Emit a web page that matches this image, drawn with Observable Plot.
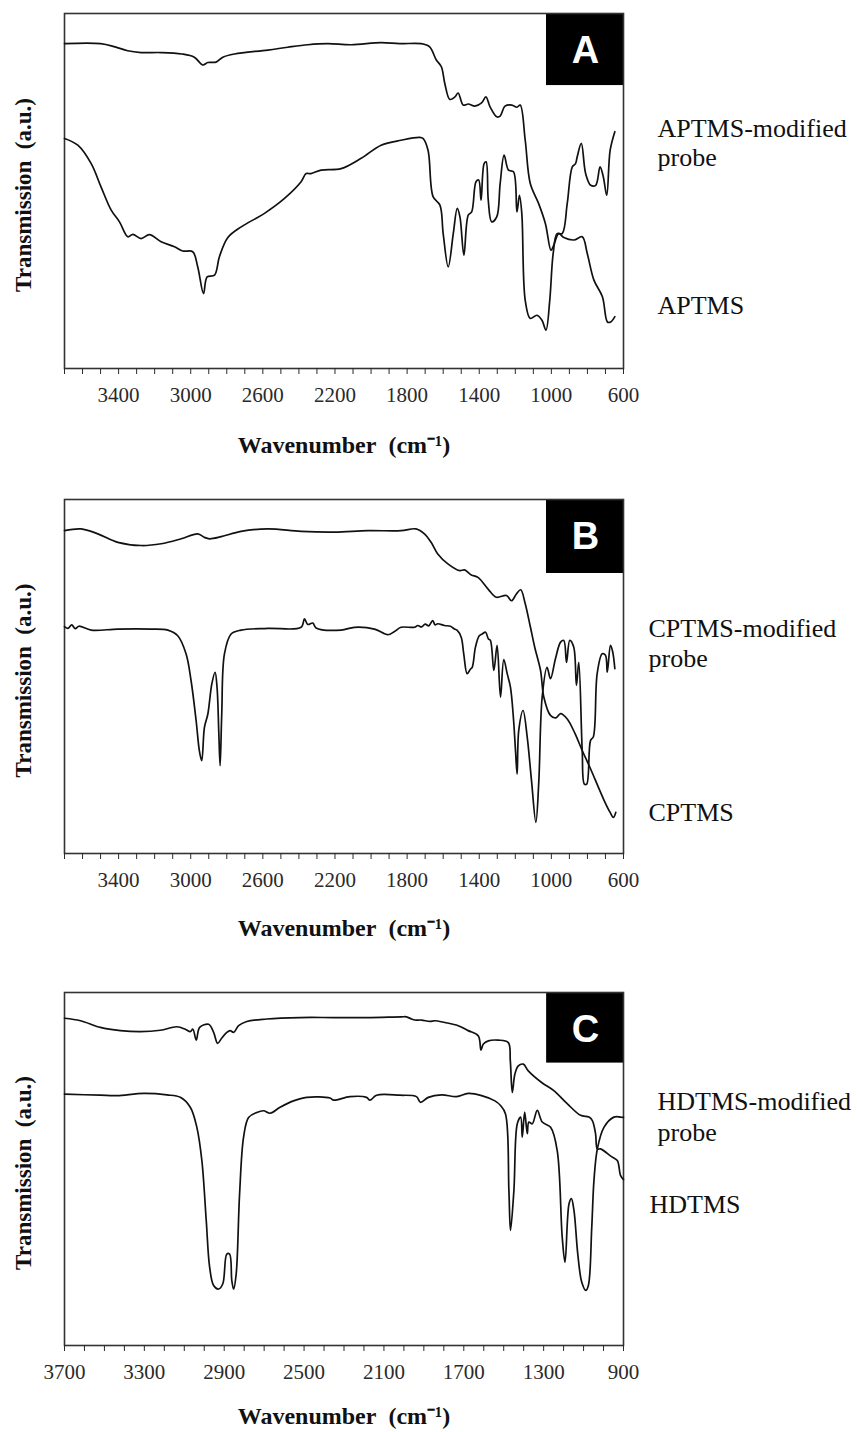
<!DOCTYPE html>
<html><head><meta charset="utf-8">
<script src="https://cdn.jsdelivr.net/npm/d3@7"></script>
<script src="https://cdn.jsdelivr.net/npm/@observablehq/plot@0.6"></script>
<style>
html,body{margin:0;padding:0;background:#fff;overflow:hidden;}
#wrap{position:relative;width:857px;height:1432px;overflow:hidden;}
#wrap svg{position:absolute;left:0;}
</style></head><body><div id="wrap"></div>
<script>
// ---------- data (wavenumber cm-1, transmission a.u.) ----------
const ticksAB = d3.range(3700, 599, -100);
const tickLabelsAB = [3400, 3000, 2600, 2200, 1800, 1400, 1000, 600];
const ticksC = d3.range(3700, 899, -100);
const tickLabelsC = [3700, 3300, 2900, 2500, 2100, 1700, 1300, 900];

const namesA = ["APTMS-modified", "probe", "APTMS"];
const namesB = ["CPTMS-modified", "probe", "CPTMS"];
const namesC = ["HDTMS-modified", "probe", "HDTMS"];
const letters = ["A", "B", "C"];

const aptmsProbe = [[3700,91.5],[3500,91.5],[3420,90.6],[3350,89.5],[3275,89.0],[3165,89.0],[3050,88.6],[2980,87.7],[2933,85.5],[2905,86.2],[2860,86.3],[2822,87.7],[2757,88.6],[2572,89.7],[2462,90.5],[2350,91.2],[2240,91.5],[2110,91.2],[1944,91.8],[1842,91.5],[1722,91.5],[1675,90.6],[1638,86.9],[1610,85.0],[1591,80.3],[1563,75.8],[1535,76.5],[1517,77.6],[1489,74.2],[1461,74.5],[1424,73.9],[1387,74.8],[1363,76.5],[1340,73.7],[1303,70.9],[1284,71.1],[1257,73.9],[1219,74.2],[1191,73.6],[1173,74.2],[1145,64.3],[1117,52.1],[1071,46.5],[1033,40.8],[1002,33.3],[987,34.7],[959,38.0],[931,36.9],[875,36.2],[829,37.1],[801,32.4],[764,24.9],[717,20.2],[689,13.1],[671,13.1],[648,14.6]];
const aptms = [[3700,64.8],[3626,62.9],[3552,57.7],[3497,51.1],[3441,44.6],[3395,41.3],[3349,37.1],[3321,37.8],[3275,36.6],[3229,37.7],[3164,35.7],[3090,34.3],[3044,33.1],[2989,32.9],[2961,28.6],[2929,21.1],[2909,25.8],[2868,26.3],[2841,31.5],[2794,36.9],[2720,39.9],[2591,43.7],[2480,47.9],[2388,52.6],[2360,54.9],[2333,54.9],[2277,55.9],[2166,56.3],[2055,59.2],[1944,62.9],[1833,64.3],[1732,65.1],[1712,64.8],[1684,61.5],[1656,48.4],[1618,46.0],[1600,38.0],[1572,28.6],[1544,38.0],[1522,45.1],[1507,42.7],[1485,31.9],[1461,43.2],[1442,44.1],[1418,52.6],[1403,53.1],[1390,47.4],[1373,57.7],[1362,58.2],[1350,47.4],[1331,41.3],[1303,42.7],[1284,52.1],[1262,60.1],[1238,55.9],[1210,55.4],[1191,44.1],[1177,48.8],[1164,43.7],[1145,19.2],[1117,14.1],[1080,15.0],[1052,13.6],[1030,10.8],[1009,19.2],[990,32.4],[968,38.0],[940,38.0],[912,46.5],[884,56.8],[866,57.7],[857,59.6],[834,63.4],[810,54.9],[782,51.6],[754,51.6],[730,56.8],[712,54.0],[693,48.8],[674,61.5],[648,66.7]];

const cptmsProbe = [[3700,91.2],[3608,91.7],[3515,90.3],[3404,87.9],[3275,87.0],[3164,87.5],[3053,88.9],[2961,90.3],[2924,89.3],[2896,88.9],[2831,89.5],[2721,91.0],[2573,91.7],[2388,91.0],[2203,90.8],[2018,91.2],[1834,91.2],[1751,91.7],[1704,90.3],[1667,87.9],[1630,84.6],[1574,81.8],[1509,79.9],[1481,80.1],[1444,78.7],[1407,78.0],[1351,74.7],[1305,72.4],[1249,72.9],[1221,71.4],[1194,73.3],[1170,74.5],[1147,71.0],[1116,63.9],[1092,58.2],[1060,51.7],[1042,44.2],[1005,39.0],[975,38.3],[949,39.5],[912,38.0],[870,34.0],[829,29.1],[786,24.3],[739,18.7],[702,14.4],[674,11.6],[656,10.2],[643,11.6]];
const cptms = [[3700,64.1],[3680,63.6],[3660,64.6],[3640,63.5],[3620,64.2],[3552,63.1],[3404,63.4],[3220,63.4],[3127,63.1],[3072,61.5],[3026,56.4],[2998,48.8],[2970,37.5],[2952,29.0],[2939,26.2],[2924,35.6],[2905,39.4],[2883,47.9],[2865,51.2],[2854,46.9],[2844,33.7],[2837,24.8],[2828,39.4],[2813,56.4],[2776,62.0],[2721,63.1],[2573,63.6],[2388,63.9],[2369,66.3],[2351,64.7],[2323,65.1],[2305,63.7],[2166,63.1],[2092,63.9],[1981,63.4],[1907,61.8],[1870,62.7],[1834,63.9],[1759,63.9],[1741,64.4],[1720,64.0],[1700,64.8],[1680,64.3],[1658,65.8],[1645,64.6],[1630,64.9],[1593,64.4],[1560,64.2],[1537,63.4],[1522,63.0],[1500,61.1],[1486,56.4],[1467,50.8],[1450,52.0],[1439,52.6],[1421,58.3],[1400,61.5],[1384,62.0],[1365,62.5],[1349,60.6],[1338,60.2],[1319,51.7],[1301,58.8],[1282,44.2],[1264,54.8],[1245,50.8],[1227,47.0],[1210,38.0],[1199,29.1],[1190,22.4],[1181,34.7],[1157,40.4],[1134,32.9],[1110,20.5],[1086,8.8],[1070,20.0],[1051,44.2],[1024,52.6],[1005,49.4],[977,55.1],[949,59.7],[931,60.2],[916,54.0],[898,60.2],[876,58.3],[861,47.5],[848,54.0],[829,29.1],[817,19.6],[804,19.6],[783,31.9],[767,33.0],[746,50.8],[718,56.4],[700,56.0],[690,51.2],[672,58.8],[660,57.0],[648,52.2]];

const hdtmsProbe = [[3700,92.7],[3620,92.0],[3520,90.1],[3420,89.2],[3320,88.9],[3220,89.3],[3137,90.3],[3095,89.6],[3070,88.9],[3057,89.6],[3040,86.5],[3023,90.1],[2978,91.0],[2953,88.7],[2933,85.6],[2912,87.1],[2887,88.7],[2870,89.2],[2853,88.7],[2828,90.6],[2787,91.8],[2687,92.5],[2520,92.9],[2353,92.9],[2187,92.9],[2012,93.1],[1987,93.1],[1962,92.5],[1945,92.2],[1912,92.2],[1870,91.8],[1845,92.0],[1795,91.5],[1728,90.6],[1678,89.2],[1627,87.7],[1614,83.7],[1602,85.4],[1577,86.3],[1527,86.5],[1477,85.8],[1467,80.7],[1457,71.7],[1444,76.9],[1427,79.2],[1402,79.7],[1377,77.8],[1310,74.5],[1249,72.2],[1182,68.5],[1115,65.2],[1073,64.7],[1056,63.7],[1040,60.0],[1031,55.7],[1015,55.7],[960,53.5],[931,52.4],[915,48.2],[900,47.0]];
const hdtms = [[3700,71.2],[3520,70.9],[3437,70.8],[3303,71.4],[3187,71.0],[3120,70.3],[3070,67.5],[3037,61.8],[3012,52.4],[2990,35.4],[2973,22.2],[2953,17.0],[2928,16.0],[2907,17.5],[2887,25.9],[2873,25.9],[2862,18.4],[2853,16.0],[2840,20.3],[2823,42.9],[2803,59.0],[2778,64.6],[2737,66.0],[2703,66.5],[2670,65.8],[2620,67.5],[2553,69.3],[2487,70.3],[2370,70.1],[2353,69.5],[2270,70.5],[2187,70.3],[2170,69.5],[2137,70.9],[2020,70.9],[1937,70.5],[1917,68.9],[1878,70.3],[1811,71.0],[1736,70.5],[1678,71.4],[1611,70.8],[1544,69.3],[1516,68.0],[1491,65.6],[1474,43.9],[1466,32.6],[1449,43.9],[1432,62.8],[1415,64.7],[1407,59.0],[1395,66.1],[1382,60.0],[1374,63.3],[1357,62.8],[1332,66.6],[1307,63.3],[1265,61.8],[1232,55.2],[1207,30.7],[1193,23.6],[1173,40.1],[1161,41.6],[1148,38.2],[1129,25.9],[1109,17.9],[1089,15.6],[1076,17.0],[1059,33.5],[1048,46.7],[1031,55.7],[998,61.8],[948,64.7],[915,64.7],[900,64.6]];

// ---------- drawing ----------
const SERIF = "'Liberation Serif','Times New Roman',serif";
const SANS = "'Liberation Sans',Arial,sans-serif";

function panel(cfg) {
  const rows = [];
  cfg.series.forEach((s, k) => s.forEach(([x, y]) => rows.push({x, y, k})));
  const labelSet = new Set(cfg.tickLabels);
  const names = cfg.names.map((t, i) => ({t, y: cfg.nameY[i], dx: cfg.nameDx[i]}));
  const svg = Plot.plot({
    width: 857, height: 13 + cfg.frameH + 102,
    marginTop: 13, marginBottom: 102, marginLeft: 64, marginRight: 234,
    style: {fontFamily: SERIF, background: "white", color: "#222", overflow: "visible"},
    x: {domain: cfg.domain, axis: null},
    y: {domain: [0, 100], axis: null},
    marks: [
      Plot.rect([cfg.letter], {x1: cfg.boxX1, x2: cfg.domain[1], y1: cfg.boxY1, y2: 100, fill: "black"}),
      Plot.frame({stroke: "#333", strokeWidth: 1.6}),
      Plot.axisX({ticks: cfg.ticks, tickFormat: d => labelSet.has(d) ? String(d) : "",
        tickSize: 6, tickPadding: 13, fontSize: 21, fontFamily: SERIF, color: "#2a2a2a", label: null}),
      Plot.line(rows, {x: "x", y: "y", z: "k", stroke: "#111", strokeWidth: 1.7, curve: "catmull-rom"}),
      Plot.text([cfg.letter], {text: d => d, frameAnchor: "top-right", dx: -38, dy: 37,
        textAnchor: "middle", lineAnchor: "middle",
        fill: "white", fontFamily: SANS, fontWeight: "bold", fontSize: 38}),
      Plot.text(["Transmission\u00a0\u00a0(a.u.)"], {text: d => d, frameAnchor: "left", rotate: -90,
        textAnchor: "middle", lineAnchor: "middle",
        dx: -41, dy: 4, fontWeight: "bold", fontSize: 23, fill: "#111"}),
      Plot.text(["Wavenumber\u00a0\u00a0(cm\u207B\u00B9)"], {text: d => d, frameAnchor: "bottom",
        textAnchor: "middle", lineAnchor: "middle",
        dy: cfg.titleDy, fontWeight: "bold", fontSize: 24, fill: "#111"}),
      ...names.map(n => Plot.text([n], {x: () => cfg.domain[1], y: "y", text: "t", dx: n.dx,
        textAnchor: "start", lineAnchor: "middle", fontSize: 26, fill: "#111"}))
    ]
  });
  svg.style.top = cfg.top + "px";
  document.getElementById("wrap").appendChild(svg);
}

panel({top: 0, frameH: 355, domain: [3700, 600], ticks: ticksAB, tickLabels: tickLabelsAB,
  series: [aptmsProbe, aptms], names: namesA, nameY: [67.6, 59.4, 17.7], nameDx: [34, 34, 34],
  letter: letters[0], boxX1: 1027, boxY1: 79.7, titleDy: 77});
panel({top: 486, frameH: 354, domain: [3700, 600], ticks: ticksAB, tickLabels: tickLabelsAB,
  series: [cptmsProbe, cptms], names: namesB, nameY: [63.4, 54.9, 11.6], nameDx: [25, 25, 25],
  letter: letters[1], boxX1: 1027, boxY1: 79.1, titleDy: 75});
panel({top: 979, frameH: 353, domain: [3700, 900], ticks: ticksC, tickLabels: tickLabelsC,
  series: [hdtmsProbe, hdtms], names: namesC, nameY: [69.1, 60.3, 40.0], nameDx: [34, 34, 26],
  letter: letters[2], boxX1: 1285, boxY1: 80.0, titleDy: 71});
</script></body></html>
